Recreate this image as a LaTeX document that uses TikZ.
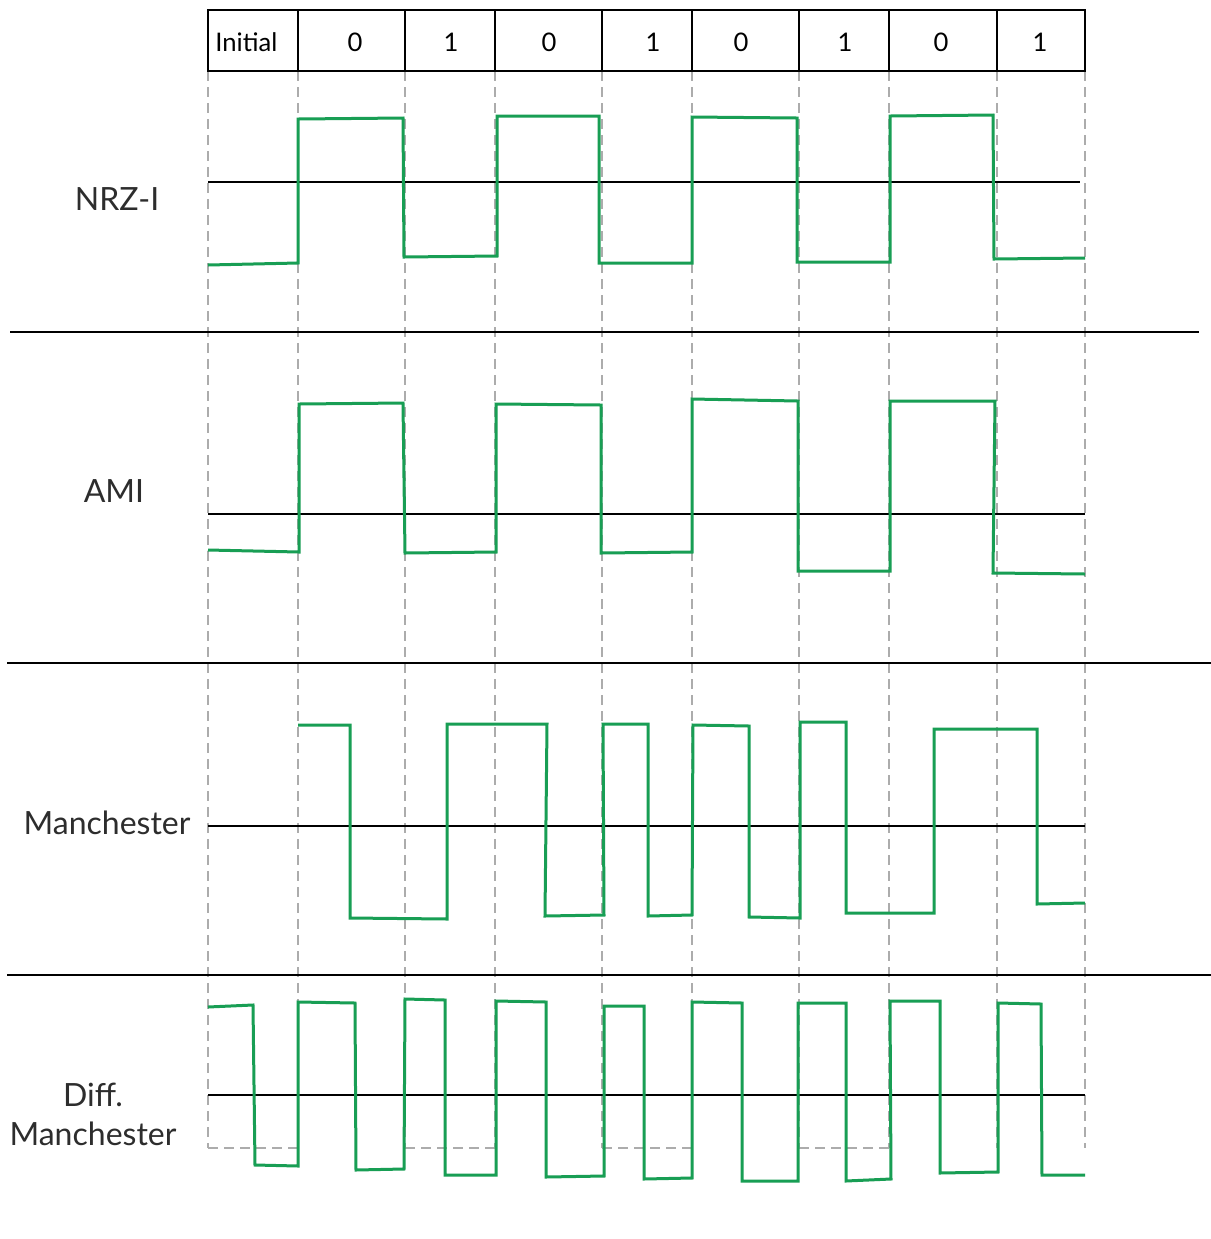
\documentclass[tikz,border=0pt]{standalone}
\usepackage{fontspec}
\setmainfont{Lato}
\definecolor{sig}{RGB}{24,158,84}
\definecolor{guidegray}{RGB}{172,172,172}
\definecolor{labgray}{RGB}{45,45,45}
\begin{document}
\begin{tikzpicture}[x=0.5pt,y=-0.5pt,
  sigline/.style={draw=sig, line width=1.5pt, line join=miter},
  zero/.style={draw=black, line width=0.9pt},
  sep/.style={draw=black, line width=1pt},
  guide/.style={draw=guidegray, line width=0.8pt, dash pattern=on 5pt off 3pt},
  hdrline/.style={draw=black, line width=1pt},
  lab/.style={font=\fontsize{16}{19.5}\selectfont, text=labgray, align=center, inner sep=0pt},
  hdr/.style={font=\fontsize{12.8}{15}\selectfont, text=black, inner sep=0pt},
]
\useasboundingbox (0,0) rectangle (1211,1239);
\fill[white] (0,0) rectangle (1211,1239);

% guide lines
\foreach \x in {208,298,405,495,602,692,799,889,997,1085}
  \draw[guide] (\x,71) -- (\x,1148);
\foreach \a/\b in {208/298,405/495,602/692,799/889}
  \draw[guide] (\a,1148) -- (\b,1148);

% header table
\draw[hdrline] (208,10) rectangle (1085,71);
\foreach \x in {298,405,495,602,692,799,889,997}
  \draw[hdrline] (\x,10) -- (\x,71);
\node[hdr, anchor=west] (hinit) at (215,42) {Initial};
\node[hdr] (h1) at (355,42) {0};
\node[hdr] (h2) at (451,42) {1};
\node[hdr] (h3) at (549,42) {0};
\node[hdr] (h4) at (653,42) {1};
\node[hdr] (h5) at (741,42) {0};
\node[hdr] (h6) at (845,42) {1};
\node[hdr] (h7) at (941,42) {0};
\node[hdr] (h8) at (1040,42) {1};

% separators
\draw[sep] (10,332) -- (1199,332);
\draw[sep] (7,663) -- (1211,663);
\draw[sep] (7,975) -- (1211,975);

% zero lines
\draw[zero] (208,182) -- (1080,182);
\draw[zero] (208,514) -- (1085,514);
\draw[zero] (208,826) -- (1085,826);
\draw[zero] (208,1095) -- (1085,1095);

% labels
\node[lab] (lnrz) at (117,199) {NRZ-I};
\node[lab] (lami) at (114,491) {AMI};
\node[lab] (lman) at (107,823) {Manchester};
\node[lab] (ldiff) at (93,1114) {Diff.\\Manchester};

% NRZ-I
\draw[sigline] (208,265) -- (298,263) -- (298,119) -- (403,118) -- (404,257) -- (497,256)
  -- (497,116) -- (599,116) -- (599,263) -- (692,263) -- (692,117) -- (797,118)
  -- (797,262) -- (890,262) -- (890,116) -- (993,115) -- (994,259) -- (1085,258);

% AMI
\draw[sigline] (208,550) -- (299,552) -- (299,404) -- (403,403) -- (405,553) -- (496,552)
  -- (496,404) -- (601,405) -- (601,553) -- (692,552) -- (692,399) -- (798,401)
  -- (798,571) -- (890,571) -- (890,401) -- (995,401) -- (993,573) -- (1085,574);

% Manchester
\draw[sigline] (298,725) -- (350,725) -- (350,918) -- (447,919) -- (447,724) -- (547,724)
  -- (545,916) -- (604,915) -- (603,724) -- (648,724) -- (648,916) -- (692,915)
  -- (693,725) -- (749,726) -- (749,917) -- (800,918) -- (800,722) -- (846,722)
  -- (846,913) -- (934,913) -- (934,729) -- (1037,729) -- (1037,904) -- (1085,903);

% Differential Manchester
\draw[sigline] (208,1007) -- (253,1005) -- (255,1165) -- (298,1166) -- (298,1002) -- (355,1003)
  -- (356,1170) -- (404,1169) -- (405,999) -- (445,1000) -- (445,1175) -- (496,1175)
  -- (496,1001) -- (546,1002) -- (546,1177) -- (604,1176) -- (604,1006) -- (644,1006)
  -- (644,1179) -- (692,1178) -- (692,1002) -- (742,1003) -- (742,1181) -- (798,1181)
  -- (798,1003) -- (846,1003) -- (846,1181) -- (891,1179) -- (890,1001) -- (940,1001)
  -- (940,1173) -- (998,1172) -- (998,1003) -- (1041,1004) -- (1042,1175) -- (1085,1175);
\end{tikzpicture}
\end{document}
